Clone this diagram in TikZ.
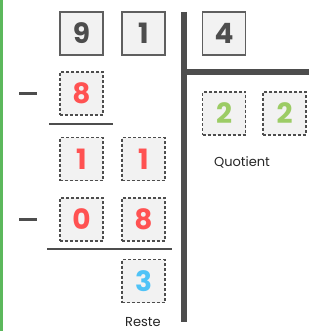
\documentclass[tikz,border=0pt]{standalone}
\usepackage{fontspec}
\setmainfont{Poppins}
\usetikzlibrary{positioning}
\definecolor{ink}{HTML}{4D4D4D}
\definecolor{boxfill}{HTML}{F2F2F2}
\definecolor{sub}{HTML}{FF5252}
\definecolor{quot}{HTML}{9CCC65}
\definecolor{rest}{HTML}{4FC3F7}
\definecolor{stripe}{HTML}{5CB85C}
\tikzset{
  dg/.style={minimum size=43pt, inner sep=0pt, fill=boxfill, line width=1.5pt,
             font=\fontsize{28}{28}\selectfont\bfseries},
  ds/.style={dg, draw=ink!90, text=ink},
  dd/.style={dg, draw=ink, dash pattern=on 3pt off 2pt, text=sub},
  bar/.style={draw=ink, line width=6pt},
  rule/.style={draw=ink, line width=2.5pt},
  minus/.style={draw=ink, line width=3pt},
  lbl/.style={font=\fontsize{13}{13}\selectfont, text=black!85},
}

\begin{document}
\begin{tikzpicture}[x=1pt, y=-1pt]
\useasboundingbox (0,0) rectangle (321,331);
\fill[stripe] (0,0) rectangle (3,331);

% ---- dividend ----
\node[ds] (n9) at (81.5, 33.5) {9};
\node[ds] (n1) at (143.5, 33.5) {1};

% ---- first subtraction ----
\node[dd] (s8) at (81.5, 93.5) {8};
\node[dd] (r1a) at (81.5, 159) {1};
\node[dd] (r1b) at (143.5, 159) {1};

% ---- second subtraction ----
\node[dd] (s0) at (81.5, 219.5) {0};
\node[dd] (s8b) at (143.5, 219.5) {8};
\node[dd, text=rest] (r3) at (143.5, 281) {3};
\node[lbl] (reste) at (143, 322) {Reste};

% ---- divisor / quotient ----
\node[ds] (n4) at (224, 33.5) {4};
\node[dd, text=quot] (q1) at (224, 113.5) {2};
\node[dd, text=quot] (q2) at (284.5, 113.5) {2};
\node[lbl] (quotient) at (242, 162) {Quotient};

% ---- minus signs and rules ----
\draw[minus] (19, 94) -- (37, 94);
\draw[minus] (19, 219) -- (37, 219);
\draw[rule] (49, 124) -- (113, 124);
\draw[rule] (47, 249) -- (172, 249);

% ---- division bracket ----
\draw[bar] (184, 12) -- (184, 322);
\draw[bar] (181, 72) -- (309, 72);
\end{tikzpicture}
\end{document}
